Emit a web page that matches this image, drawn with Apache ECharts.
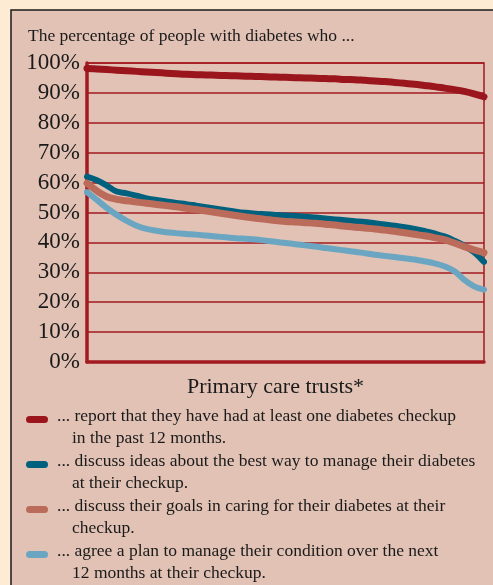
<!DOCTYPE html>
<html>
<head>
<meta charset="utf-8">
<title>Diabetes checkups by primary care trust</title>
<script src="https://cdn.jsdelivr.net/npm/echarts@6/dist/echarts.min.js"></script>
<style>
  html, body { margin: 0; padding: 0; background: #fdebd3; }
  #chart { width: 493px; height: 585px; }
</style>
</head>
<body>
<div id="chart"></div>
<script>
  // primary care trusts, ranked (41 sample points along the axis)
  var trusts = []
  for (var i = 0; i <= 40; i++) trusts.push(i)

  var yTicks = [0, 10, 20, 30, 40, 50, 60, 70, 80, 90, 100]

  // % who had at least one checkup in past 12 months
  var checkup = [98.2, 98.0, 97.8, 97.6, 97.4, 97.2, 97.0, 96.8, 96.6, 96.4,
    96.2, 96.1, 96.0, 95.9, 95.8, 95.7, 95.6, 95.5, 95.4, 95.3,
    95.2, 95.1, 95.0, 94.9, 94.8, 94.7, 94.5, 94.4, 94.2, 94.0,
    93.8, 93.5, 93.2, 92.9, 92.5, 92.1, 91.6, 91.1, 90.5, 89.7, 88.7]

  // % who discuss ideas about best way to manage diabetes
  var ideas = [62.0, 60.8, 59.0, 57.0, 56.4, 55.6, 54.7, 54.2, 53.7, 53.2,
    52.8, 52.3, 51.8, 51.3, 50.8, 50.3, 49.9, 49.6, 49.4, 49.2,
    49.0, 48.8, 48.6, 48.3, 48.0, 47.7, 47.4, 47.1, 46.8, 46.4,
    46.0, 45.6, 45.1, 44.5, 43.8, 43.0, 42.0, 40.6, 38.9, 36.7, 33.5]

  // % who discuss their goals
  var goals = [59.8, 57.2, 55.3, 54.4, 53.9, 53.5, 53.1, 52.7, 52.3, 51.9,
    51.4, 51.0, 50.5, 50.0, 49.5, 49.0, 48.5, 48.1, 47.7, 47.3,
    47.0, 46.8, 46.6, 46.4, 46.1, 45.8, 45.4, 45.1, 44.8, 44.5,
    44.1, 43.7, 43.2, 42.7, 42.2, 41.6, 40.9, 39.8, 38.6, 37.5, 36.6]

  // % who agree a plan for next 12 months
  var plan = [56.8, 54.2, 51.5, 49.2, 47.2, 45.6, 44.5, 43.9, 43.4, 43.1,
    42.8, 42.6, 42.3, 42.0, 41.7, 41.4, 41.2, 41.0, 40.6, 40.2,
    39.8, 39.4, 39.0, 38.6, 38.1, 37.7, 37.3, 36.9, 36.4, 35.9,
    35.5, 35.1, 34.7, 34.3, 33.7, 33.0, 32.0, 30.4, 27.5, 25.3, 24.2]

  var seriesNames = ['checkup', 'ideas', 'goals', 'plan']
  var seriesColors = ['#9a161c', '#00617f', '#bb6b59', '#6aa6c2']
  var legendText = [
    ['... report that they have had at least one diabetes checkup', 'in the past 12 months.'],
    ['... discuss ideas about the best way to manage their diabetes', 'at their checkup.'],
    ['... discuss their goals in caring for their diabetes at their', 'checkup.'],
    ['... agree a plan to manage their condition over the next', '12 months at their checkup.']
  ]

  var serif = '"Liberation Serif", "DejaVu Serif", serif'
  var gridRed = '#a31a20'

  var chart = echarts.init(document.getElementById('chart'))

  // hand-made legend, first line next to the swatch, second line indented
  var legendItems = []
  legendText.forEach(function (lines, k) {
    var y0 = 407 + k * 45
    legendItems.push({
      type: 'rect',
      shape: { x: 26, y: y0 + 9, width: 22, height: 7, r: 3.5 },
      style: { fill: seriesColors[k] }
    })
    legendItems.push({
      type: 'text',
      x: 57, y: y0,
      style: { text: lines[0], font: '17.5px ' + serif, fill: '#1a1a1a' }
    })
    legendItems.push({
      type: 'text',
      x: 72, y: y0 + 22.5,
      style: { text: lines[1], font: '17.5px ' + serif, fill: '#1a1a1a' }
    })
  })

  var data = [checkup, ideas, goals, plan]
  var widths = [7, 6, 7, 6]

  chart.setOption({
    backgroundColor: '#fdebd3',
    animation: false,
    graphic: [
      {
        type: 'rect',
        z: -10,
        shape: { x: 11, y: 10, width: 500, height: 600 },
        style: { fill: '#e2c2b5', stroke: '#1a1a1a', lineWidth: 1.5 }
      },
      {
        type: 'text',
        x: 28, y: 27,
        style: { text: 'The percentage of people with diabetes who ...', font: '17.5px ' + serif, fill: '#1a1a1a' }
      }
    ].concat(legendItems),
    grid: {
      left: 87, top: 63, right: 9, bottom: 223,
      show: true, borderColor: gridRed, borderWidth: 1.5, backgroundColor: 'transparent'
    },
    xAxis: {
      type: 'category',
      data: trusts,
      boundaryGap: false,
      name: 'Primary care trusts*',
      nameLocation: 'middle',
      nameGap: 14,
      nameTextStyle: { fontFamily: serif, fontSize: 22, color: '#1a1a1a', padding: [0, 20, 0, 0] },
      axisLine: { lineStyle: { color: gridRed, width: 3.5 } },
      axisTick: { show: false },
      axisLabel: { show: false }
    },
    yAxis: {
      type: 'value',
      min: yTicks[0],
      max: yTicks[yTicks.length - 1],
      interval: 10,
      axisLine: { show: true, lineStyle: { color: gridRed, width: 3.5 } },
      axisTick: { show: false },
      axisLabel: {
        formatter: '{value}%',
        fontFamily: serif,
        fontSize: 23,
        color: '#1a1a1a',
        margin: 7
      },
      splitLine: { lineStyle: { color: gridRed, width: 1.5 } }
    },
    series: seriesNames.map(function (name, k) {
      return {
        name: name,
        type: 'line',
        data: data[k],
        smooth: 0.4,
        showSymbol: false,
        lineStyle: { color: seriesColors[k], width: widths[k], cap: 'round', join: 'round' }
      }
    })
  })
</script>
</body>
</html>
